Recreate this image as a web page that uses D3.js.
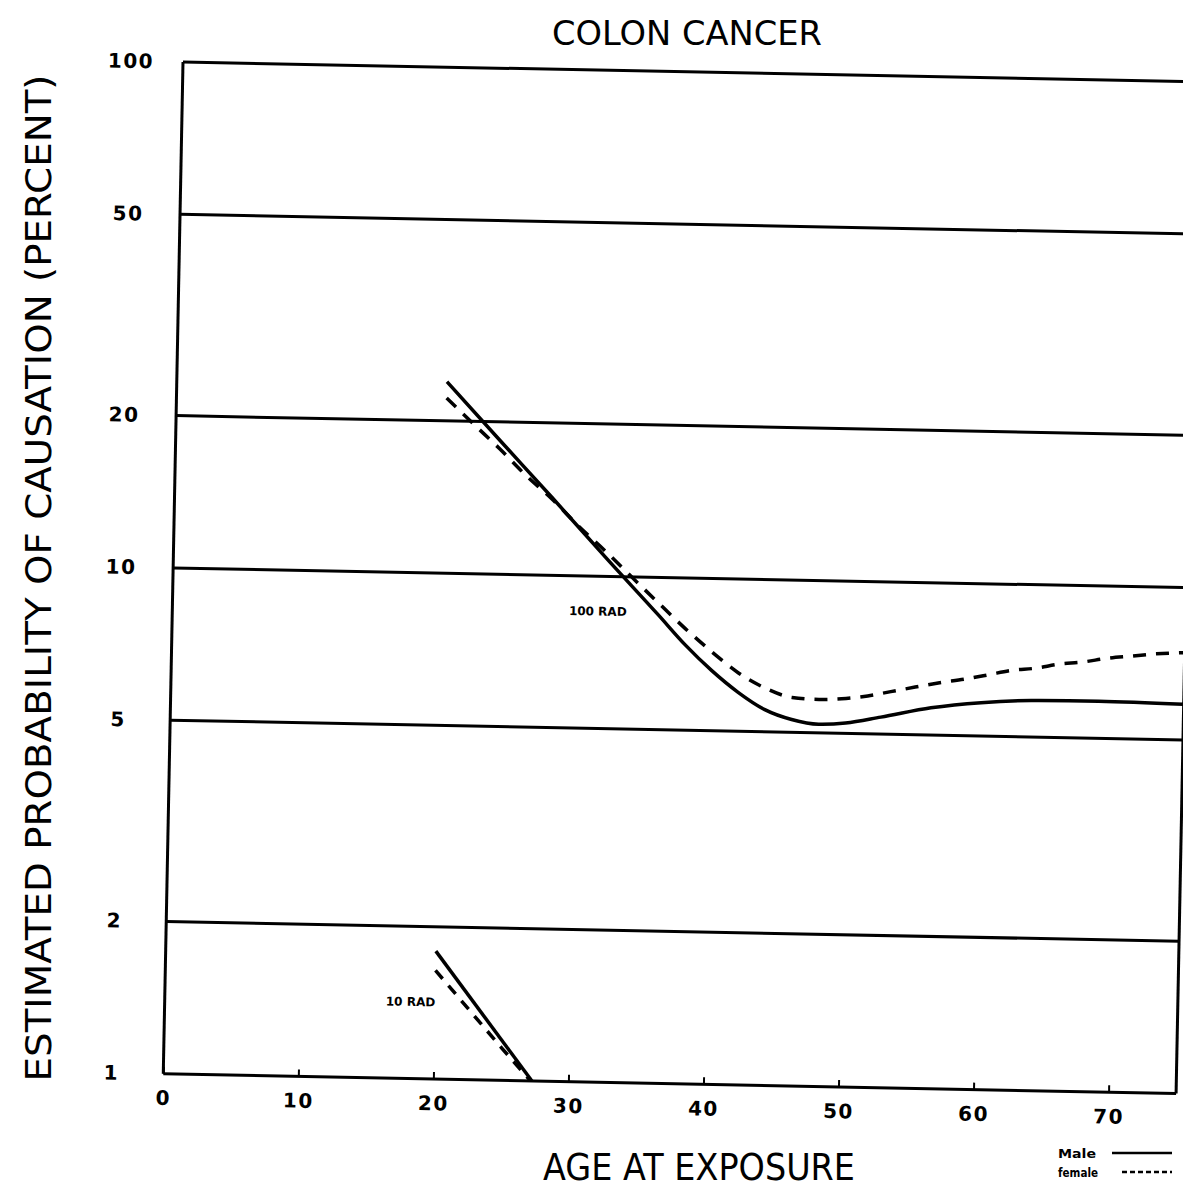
<!DOCTYPE html>
<html>
<head>
<meta charset="utf-8">
<script src="https://cdn.jsdelivr.net/npm/d3@7"></script>
<style>
  html, body { margin: 0; padding: 0; background: #fff; }
  svg { display: block; }
</style>
</head>
<body>
<svg id="chart" width="1183" height="1192"></svg>
<script>
// ---------------- data ----------------
const gridValues = [1, 2, 5, 10, 20, 50, 100];
const yTicks = [1, 2, 5, 10, 20, 50, 100];
const xTicks = [0, 10, 20, 30, 40, 50, 60, 70];

const male100Ages   = [20, 24, 28, 32, 36, 38, 40, 42, 44, 46, 48, 50, 52.6, 56.3, 60, 63.7, 68.7, 75];
const male100Values = [23.9, 18.4, 14.2, 10.9, 8.42, 7.38, 6.58, 5.97, 5.53, 5.30, 5.20, 5.24, 5.40, 5.66, 5.82, 5.90, 5.92, 5.88];

const female100Ages   = [20, 22, 24, 26, 28, 30, 32, 34, 36, 38, 40, 42, 44, 46, 48, 50, 51.6, 53.3, 55.1, 56.8, 58.8, 60.5, 62.2, 64, 65.7, 67.4, 69.4, 71.1, 72.9, 75];
const female100Values = [22.2, 19.8, 17.7, 15.7, 14.1, 12.5, 11.2, 9.97, 8.89, 7.94, 7.16, 6.52, 6.10, 5.86, 5.82, 5.86, 5.94, 6.07, 6.21, 6.34, 6.47, 6.61, 6.76, 6.84, 6.98, 7.06, 7.21, 7.29, 7.38, 7.44];

const male10Ages   = [20, 27.3];
const male10Values = [1.79, 1.0];
const female10Ages   = [20, 25, 27.2];
const female10Values = [1.64, 1.16, 1.0];

const curveLabels = ["100 RAD", "10 RAD"];
const curveLabelAges = [31.5, 18.2];
const curveLabelValues = [8.53, 1.42];

const titleText = "COLON CANCER";
const xTitle = "AGE AT EXPOSURE";
const yTitle = "ESTIMATED PROBABILITY OF CAUSATION (PERCENT)";
const legendLabels = ["Male", "female"];

// ---------------- layout ----------------
const W = 1183, H = 1192;
const plotW = 1013, plotH = 1012;
const angle = Math.atan(0.0195) * 180 / Math.PI; // scanned page is slightly rotated
const ink = "#000";

const svg = d3.select("#chart");
svg.append("rect").attr("width", W).attr("height", H).attr("fill", "#fff");

const x = d3.scaleLinear().domain([0, 75]).range([0, plotW]);
const y = d3.scaleLog().domain([1, 100]).range([plotH, 0]);

const g = svg.append("g").attr("transform", `translate(183,62) rotate(${angle})`);

// horizontal grid lines
g.selectAll("line.grid").data(gridValues).join("line")
  .attr("class", "grid")
  .attr("x1", 0).attr("x2", plotW)
  .attr("y1", d => y(d)).attr("y2", d => y(d))
  .attr("stroke", ink).attr("stroke-width", 3);

// left / right borders
g.append("line").attr("x1", 0).attr("x2", 0).attr("y1", y(100)).attr("y2", y(1))
  .attr("stroke", ink).attr("stroke-width", 3);
g.append("line").attr("x1", plotW).attr("x2", plotW).attr("y1", y(100)).attr("y2", y(1))
  .attr("stroke", ink).attr("stroke-width", 3);

// y axis
const ya = g.append("g").call(
  d3.axisLeft(y).tickValues(yTicks).tickFormat(d3.format("d")).tickSize(0).tickPadding(52)
);
ya.select(".domain").remove();
ya.selectAll("text")
  .attr("text-anchor", "middle")
  .attr("fill", ink)
  .attr("font-family", "DejaVu Sans")
  .attr("font-weight", "bold")
  .attr("font-size", 20)
  .attr("letter-spacing", 1.5);

// x axis
const xa = g.append("g").attr("transform", `translate(0,${plotH})`).call(
  d3.axisBottom(x).tickValues(xTicks).tickFormat(d3.format("d")).tickSizeInner(-7).tickSizeOuter(0).tickPadding(17)
);
xa.select(".domain").remove();
xa.selectAll(".tick line").attr("stroke", ink).attr("stroke-width", 2);
xa.selectAll("text")
  .attr("fill", ink)
  .attr("font-family", "DejaVu Sans")
  .attr("font-weight", "bold")
  .attr("font-size", 20)
  .attr("letter-spacing", 1.5);

// curves
const smooth = d3.line().x(d => x(d[0])).y(d => y(d[1])).curve(d3.curveMonotoneX);
const straight = d3.line().x(d => x(d[0])).y(d => y(d[1]));
const zip = (a, b) => a.map((v, i) => [v, b[i]]);

const series = [
  { pts: zip(male100Ages, male100Values), gen: smooth, dash: null },
  { pts: zip(female100Ages, female100Values), gen: smooth, dash: "13,10" },
  { pts: zip(male10Ages, male10Values), gen: straight, dash: null },
  { pts: zip(female10Ages, female10Values), gen: straight, dash: "11,9" }
];
g.selectAll("path.curve").data(series).join("path")
  .attr("class", "curve")
  .attr("d", d => d.gen(d.pts))
  .attr("fill", "none")
  .attr("stroke", ink)
  .attr("stroke-width", 3.5)
  .attr("stroke-dasharray", d => d.dash);

// curve labels
g.selectAll("text.clab").data(curveLabels).join("text")
  .attr("class", "clab")
  .attr("x", (d, i) => x(curveLabelAges[i]))
  .attr("y", (d, i) => y(curveLabelValues[i]))
  .attr("dy", "0.36em")
  .attr("text-anchor", "middle")
  .attr("font-family", "DejaVu Sans")
  .attr("font-weight", "bold")
  .attr("font-size", 12)
  .attr("fill", ink)
  .text(d => d);

// title
svg.append("text")
  .attr("x", 687).attr("y", 45)
  .attr("text-anchor", "middle")
  .attr("font-family", "DejaVu Sans")
  .attr("font-size", 33)
  .attr("textLength", 270).attr("lengthAdjust", "spacingAndGlyphs")
  .attr("fill", ink)
  .text(titleText);

// x title
svg.append("text")
  .attr("x", 699).attr("y", 1180)
  .attr("text-anchor", "middle")
  .attr("font-family", "DejaVu Sans")
  .attr("font-size", 38)
  .attr("textLength", 312).attr("lengthAdjust", "spacingAndGlyphs")
  .attr("fill", ink)
  .text(xTitle);

// y title
svg.append("text")
  .attr("transform", "translate(51,578) rotate(-90)")
  .attr("text-anchor", "middle")
  .attr("font-family", "DejaVu Sans")
  .attr("font-size", 36)
  .attr("textLength", 1007).attr("lengthAdjust", "spacingAndGlyphs")
  .attr("fill", ink)
  .text(yTitle);

// legend
const legY = [1153, 1172];
const legDash = [null, "5,3"];
const legX1 = [1112, 1122];
const leg = svg.append("g");
leg.selectAll("text").data(legendLabels).join("text")
  .attr("x", 1058).attr("y", (d, i) => legY[i] + 5)
  .attr("font-family", "DejaVu Sans")
  .attr("font-weight", "bold")
  .attr("font-size", 12)
  .attr("textLength", (d, i) => i === 0 ? 38 : 40).attr("lengthAdjust", "spacingAndGlyphs")
  .attr("fill", ink)
  .text(d => d);
leg.selectAll("line").data(legendLabels).join("line")
  .attr("x1", (d, i) => legX1[i]).attr("x2", 1172)
  .attr("y1", (d, i) => legY[i]).attr("y2", (d, i) => legY[i])
  .attr("stroke", ink).attr("stroke-width", 2.5)
  .attr("stroke-dasharray", (d, i) => legDash[i]);
</script>
</body>
</html>
